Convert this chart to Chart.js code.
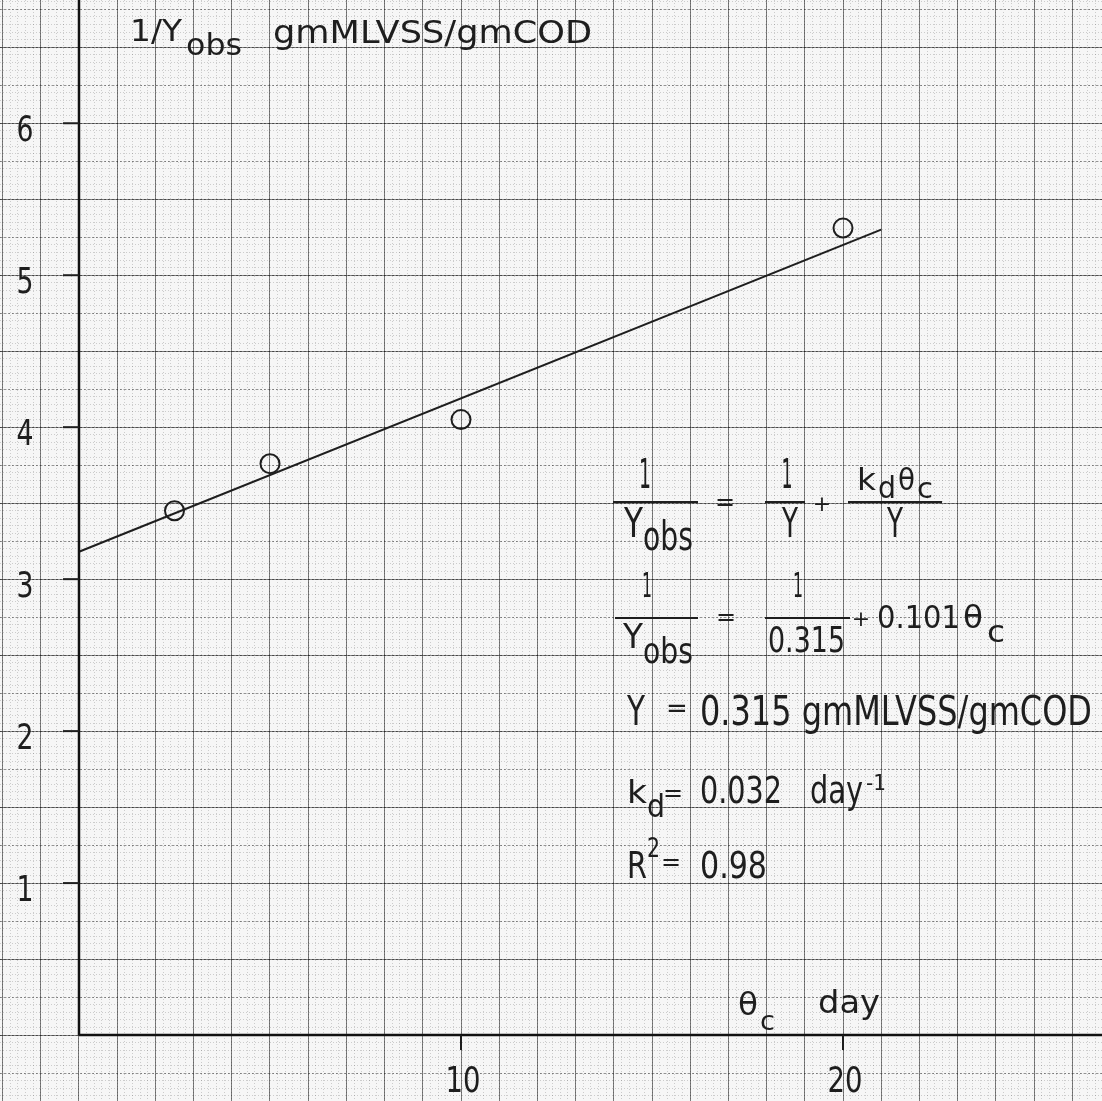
<!DOCTYPE html>
<html>
<head>
<meta charset="utf-8">
<script src="https://cdn.jsdelivr.net/npm/chart.js@4.4.1/dist/chart.umd.min.js"></script>
<style>
  html, body { margin: 0; padding: 0; background: #f6f6f6; }
  canvas { display: block; }
</style>
</head>
<body>
<canvas id="c" width="1102" height="1101"></canvas>
<script>
// ---- data ----
const thetaC = [2.5, 5, 10, 20];            // day
const invYobs = [3.45, 3.76, 4.05, 5.31];   // 1/Yobs gmMLVSS/gmCOD
const fitTheta = [0, 21];
const fitInvY = [3.18, 5.30];
const xTickValues = [10, 20];
const xTickLabels = ['10', '20'];
const yTickValues = [1, 2, 3, 4, 5, 6];
const yTickLabels = ['1', '2', '3', '4', '5', '6'];

// visible range of the sheet
const X_MIN = -2.068, X_MAX = 26.78;
const Y_MIN = -0.434, Y_MAX = 6.811;

const INK = '#1e1e1e';
const FONT = '"DejaVu Sans", "Liberation Sans", sans-serif';

function pts(xs, ys) { return xs.map((x, i) => ({ x: x, y: ys[i] })); }

function gridScale(axis, min, max, step, color, width, dash) {
  return {
    type: 'linear', axis: axis, position: axis === 'x' ? 'bottom' : 'left',
    min: min, max: max,
    ticks: { display: false, stepSize: step, includeBounds: false },
    grid: { color: color, lineWidth: width, drawTicks: false },
    border: { display: false, dash: dash }
  };
}

function txt(ctx, s, x, y, size, w, align) {
  ctx.save();
  ctx.font = size + 'px ' + FONT;
  ctx.textBaseline = 'alphabetic';
  ctx.textAlign = 'left';
  const mw = ctx.measureText(s).width;
  const sx = w ? w / mw : 1;
  const realW = mw * sx;
  let left = x;
  if (align === 'center') left = x - realW / 2;
  ctx.translate(left, y);
  ctx.scale(sx, 1);
  ctx.fillStyle = INK;
  ctx.fillText(s, 0, 0);
  ctx.restore();
}
function txtMid(ctx, s, cx, cy, size) {
  ctx.save();
  ctx.font = size + 'px ' + FONT;
  ctx.textBaseline = 'middle';
  ctx.textAlign = 'center';
  ctx.fillStyle = INK;
  ctx.fillText(s, cx, cy);
  ctx.restore();
}
function bar(ctx, x1, x2, y) {
  ctx.save();
  ctx.strokeStyle = INK; ctx.lineWidth = 2;
  ctx.beginPath(); ctx.moveTo(x1, y); ctx.lineTo(x2, y); ctx.stroke();
  ctx.restore();
}

const sheetPlugin = {
  id: 'sheet',
  beforeDraw(chart) {
    const ctx = chart.ctx;
    ctx.save();
    ctx.fillStyle = '#f6f6f6';
    ctx.fillRect(0, 0, chart.width, chart.height);
    ctx.restore();
  },
  afterDatasetsDraw(chart) {
    const ctx = chart.ctx;
    const xs = chart.scales.x, ys = chart.scales.y;
    const x0 = xs.getPixelForValue(0), y0 = ys.getPixelForValue(0);
    // tick marks
    ctx.save();
    ctx.strokeStyle = INK; ctx.lineWidth = 2;
    yTickValues.forEach(v => {
      const py = ys.getPixelForValue(v);
      ctx.beginPath(); ctx.moveTo(x0 - 16, py); ctx.lineTo(x0, py); ctx.stroke();
    });
    xTickValues.forEach(v => {
      const px = xs.getPixelForValue(v);
      ctx.beginPath(); ctx.moveTo(px, y0); ctx.lineTo(px, y0 + 15); ctx.stroke();
    });
    ctx.restore();
    // tick labels
    yTickValues.forEach((v, i) => {
      txt(ctx, yTickLabels[i], x0 - 54, ys.getPixelForValue(v) + 18, 36, 17, 'center');
    });
    xTickValues.forEach((v, i) => {
      txt(ctx, xTickLabels[i], xs.getPixelForValue(v) + 2, y0 + 57, 36, 35, 'center');
    });
    // y-axis title
    txt(ctx, '1/Y', 130, 41, 30, 52);
    txt(ctx, 'obs', 186, 55, 30, 56);
    txt(ctx, 'gmMLVSS/gmCOD', 273, 43, 32, 319);
    // x-axis title
    txt(ctx, 'θ', 738, 1015, 32, 20);
    txt(ctx, 'c', 760, 1030, 26, 15);
    txt(ctx, 'day', 818, 1013, 32, 62);

    // equation line 1
    txt(ctx, '1', 645, 488, 40, 12, 'center');
    bar(ctx, 613, 698, 502);
    txt(ctx, 'Y', 624, 537, 40, 19);
    txt(ctx, 'obs', 643, 550, 40, 50);
    txtMid(ctx, '=', 725, 504, 24);
    txt(ctx, '1', 787, 488, 40, 11, 'center');
    bar(ctx, 765, 805, 502);
    txt(ctx, 'Y', 790, 537, 40, 16, 'center');
    txtMid(ctx, '+', 822, 505, 22);
    txt(ctx, 'k', 857, 490, 30, 19);
    txt(ctx, 'd', 878, 498, 30, 18);
    txt(ctx, 'θ', 898, 490, 30, 17);
    txt(ctx, 'c', 917, 498, 28, 16);
    bar(ctx, 848, 942, 502);
    txt(ctx, 'Y', 895, 537, 40, 16, 'center');

    // equation line 2
    txt(ctx, '1', 647, 597, 34, 10, 'center');
    bar(ctx, 615, 698, 618);
    txt(ctx, 'Y', 623, 648, 34, 20);
    txt(ctx, 'obs', 643, 663, 36, 50);
    txtMid(ctx, '=', 726, 619, 24);
    txt(ctx, '1', 798, 597, 34, 10, 'center');
    bar(ctx, 765, 850, 618);
    txt(ctx, '0.315', 768, 652, 36, 77);
    txtMid(ctx, '+', 861, 620, 22);
    txt(ctx, '0.101', 877, 628, 32, 83);
    txt(ctx, 'θ', 963, 628, 32, 20);
    txt(ctx, 'c', 987, 642, 30, 18);

    // line 3
    txt(ctx, 'Y', 627, 725, 41, 18);
    txtMid(ctx, '=', 677, 710, 26);
    txt(ctx, '0.315 gmMLVSS/gmCOD', 700, 725, 41, 392);

    // line 4
    txt(ctx, 'k', 627, 803, 32, 20);
    txt(ctx, 'd', 647, 817, 32, 18);
    txtMid(ctx, '=', 673, 795, 24);
    txt(ctx, '0.032', 700, 803, 37, 82);
    txt(ctx, 'day', 810, 803, 37, 53);
    txt(ctx, '-1', 866, 790, 22, 20);

    // line 5
    txt(ctx, 'R', 627, 878, 38, 20);
    txt(ctx, '2', 647, 857, 27, 13);
    txtMid(ctx, '=', 671, 864, 24);
    txt(ctx, '0.98', 700, 878, 38, 67);
  }
};

new Chart(document.getElementById('c'), {
  type: 'scatter',
  data: {
    datasets: [
      { // y axis line
        data: [{ x: 0, y: 0 }, { x: 0, y: Y_MAX }],
        showLine: true, pointRadius: 0, borderColor: '#111', borderWidth: 2.5
      },
      { // x axis line
        data: [{ x: 0, y: 0 }, { x: X_MAX, y: 0 }],
        showLine: true, pointRadius: 0, borderColor: '#111', borderWidth: 2.5
      },
      { // regression line
        data: pts(fitTheta, fitInvY),
        showLine: true, pointRadius: 0, borderColor: INK, borderWidth: 2
      },
      { // observations
        data: pts(thetaC, invYobs),
        showLine: false, pointStyle: 'circle', pointRadius: 9.5,
        pointBorderWidth: 2, pointBorderColor: INK, pointBackgroundColor: 'rgba(0,0,0,0)'
      }
    ]
  },
  options: {
    responsive: false, devicePixelRatio: 1, animation: false,
    layout: { padding: 0, autoPadding: false },
    plugins: { legend: { display: false }, tooltip: { enabled: false } },
    events: [],
    scales: {
      x: gridScale('x', X_MIN, X_MAX, 0.2, 'rgba(0,0,0,0.17)', 1, [1, 2]),
      y: gridScale('y', Y_MIN, Y_MAX, 0.05, 'rgba(0,0,0,0.17)', 1, [1, 2]),
      y2: gridScale('y', Y_MIN, Y_MAX, 0.25, 'rgba(0,0,0,0.4)', 1, [2, 2]),
      x2: gridScale('x', X_MIN, X_MAX, 1, 'rgba(0,0,0,0.5)', 1, []),
      y3: gridScale('y', Y_MIN, Y_MAX, 0.5, 'rgba(0,0,0,0.45)', 1, [])
    }
  },
  plugins: [sheetPlugin]
});
</script>
</body>
</html>
